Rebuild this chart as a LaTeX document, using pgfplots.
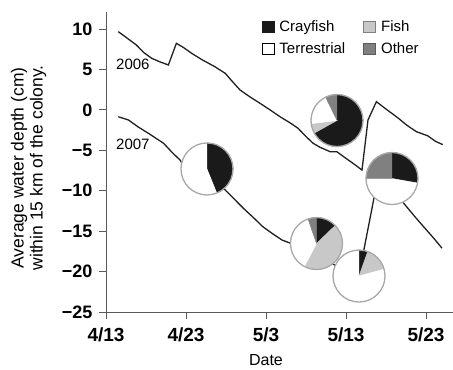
\documentclass[border=0pt]{standalone}
\usepackage{pgfplots}
\pgfplotsset{compat=1.18}
\usepackage{fontspec}
\setmainfont{Liberation Sans}
\definecolor{cray}{HTML}{1A1A1A}
\definecolor{fishc}{HTML}{C8C8C8}
\definecolor{otherc}{HTML}{808080}
\definecolor{pieedge}{HTML}{A8A8A8}
\definecolor{axisgray}{HTML}{5A5A5A}
\definecolor{linec}{HTML}{202020}

\newcommand\pieR{26bp}
\newcommand\pieslice[3]{\fill[#3] (0pt,0pt) -- ({90-#1}:\pieR) arc[start angle={90-#1}, end angle={90-#2}, radius=\pieR] -- cycle;}
\newcommand\pieframe{\draw[pieedge, line width=1.3bp] (0pt,0pt) circle[radius=\pieR];}

% slices: clockwise from 12 o'clock, in degrees
\pgfdeclareplotmark{pieA}{\pieslice{0}{158}{cray}\pieslice{158}{360}{white}\pieframe}
\pgfdeclareplotmark{pieB}{\pieslice{0}{241}{cray}\pieslice{241}{263}{fishc}\pieslice{263}{334}{white}\pieslice{334}{360}{otherc}\pieframe}
\pgfdeclareplotmark{pieC}{\pieslice{0}{46}{cray}\pieslice{46}{207.5}{fishc}\pieslice{207.5}{341}{white}\pieslice{341}{360}{otherc}\pieframe}
\pgfdeclareplotmark{pieD}{\pieslice{0}{19.6}{cray}\pieslice{19.6}{74.5}{fishc}\pieslice{74.5}{360}{white}\pieframe}
\pgfdeclareplotmark{pieE}{\pieslice{0}{100}{cray}\pieslice{100}{270}{white}\pieslice{270}{360}{otherc}\pieframe}

\begin{document}
\begin{tikzpicture}
\begin{axis}[
  x=8bp, y=8.086bp,
  xmin=0, xmax=43.375, ymin=-25, ymax=12.1,
  axis x line=bottom, axis y line=left,
  axis line style={-, axisgray, line width=0.9bp},
  tick style={axisgray, line width=0.9bp},
  tick align=outside, major tick length=7bp,
  xtick={0,10,20,30,40},
  xticklabels={4/13,4/23,5/3,5/13,5/23},
  ytick={-25,-20,-15,-10,-5,0,5,10},
  yticklabels={−25,−20,−15,−10,−5,0,5,10},
  xticklabel style={font=\fontsize{19bp}{19bp}\selectfont\bfseries, yshift=-5bp},
  yticklabel style={font=\fontsize{18bp}{18bp}\selectfont\bfseries, xshift=-3bp},
  xlabel={Date},
  xlabel style={at={(axis description cs:0.461,-0.1784)}, anchor=base, font=\fontsize{16bp}{16bp}\selectfont},
  ylabel={Average water depth (cm)\\within 15 km of the colony.},
  ylabel style={at={(axis description cs:-0.2233,0.48)}, anchor=center, align=center, font=\fontsize{17.5bp}{19bp}\selectfont},
  legend columns=2,
  legend cell align=left,
  legend style={at={(axis description cs:0.439,0.985)}, anchor=north west, draw=none, fill=none,
    font=\fontsize{15bp}{15bp}\selectfont, row sep=6bp,
    /tikz/every odd column/.append style={column sep=3bp},
    /tikz/every even column/.append style={column sep=16bp}},
  legend image code/.code={\draw[#1, line width=0.9bp] (0bp,-5.5bp) rectangle (12bp,5.5bp);},
]
\addlegendimage{fill=cray, draw=cray}
\addlegendentry{Crayfish}
\addlegendimage{fill=fishc, draw=otherc}
\addlegendentry{Fish}
\addlegendimage{fill=white, draw=black}
\addlegendentry{Terrestrial}
\addlegendimage{fill=otherc, draw=axisgray}
\addlegendentry{Other}

% 2006
\addplot[linec, line width=1.3bp, forget plot] coordinates {
(1.54,9.67) (2.6,8.9) (3.8,8.02) (4.7,7.1) (5.7,6.38) (6.7,5.95) (7.8,5.55)
(8.8,8.23) (9.7,7.7) (10.7,7.0) (12.0,6.2) (13.6,5.34) (14.9,4.52)
(15.8,3.5) (16.75,2.46) (18.0,1.6) (19.25,0.81) (20.5,0.0) (21.75,-0.85)
(23.0,-1.6) (24.0,-2.28) (25.0,-3.3) (25.9,-4.14) (26.75,-4.63) (28.0,-5.17)
(28.85,-5.17) (29.7,-5.79) (31.0,-6.7) (32.0,-7.44) (32.75,-1.25) (33.8,1.01)
(35.0,0.1) (36.5,-1.0) (37.6,-1.9) (38.8,-2.70) (40.2,-3.2) (41.2,-3.9) (42.1,-4.3)
};
% 2007
\addplot[linec, line width=1.3bp, forget plot] coordinates {
(1.54,-0.85) (2.8,-1.25) (4.0,-2.1) (5.3,-2.9) (7.2,-4.14) (8.3,-5.3) (9.25,-6.2)
(9.5,-6.6) (12.6,-7.9) (14.9,-9.91) (16.0,-11.0) (17.2,-12.2) (18.4,-13.3)
(19.6,-14.45) (20.8,-15.3) (22.0,-16.1) (23.0,-16.47) (26.3,-17.8) (28.6,-19.2)
(31.6,-20.8) (32.2,-17.5) (33.5,-10.9) (34.5,-9.0) (35.7,-9.8) (37.4,-11.77)
(38.6,-13.2) (39.7,-14.45) (40.9,-15.8) (42.0,-17.1)
};
% diet pies
\addplot[only marks, mark=pieA, forget plot] coordinates {(12.625,-7.31)};
\addplot[only marks, mark=pieB, forget plot] coordinates {(28.875,-1.32)};
\addplot[only marks, mark=pieC, forget plot] coordinates {(26.31,-16.53)};
\addplot[only marks, mark=pieD, forget plot] coordinates {(31.625,-20.55)};
\addplot[only marks, mark=pieE, forget plot] coordinates {(35.75,-8.49)};

\node[anchor=base west, inner sep=0pt, font=\fontsize{15bp}{15bp}\selectfont] at (axis cs:1.25,5.02) {2006};
\node[anchor=base west, inner sep=0pt, font=\fontsize{15bp}{15bp}\selectfont] at (axis cs:1.25,-4.88) {2007};

\coordinate (BL) at (axis cs:-13.25,-32.05);
\coordinate (TR) at (axis cs:43.375,13.586);
\end{axis}
\pgfresetboundingbox
\useasboundingbox (BL) rectangle (TR);
\end{tikzpicture}
\end{document}
